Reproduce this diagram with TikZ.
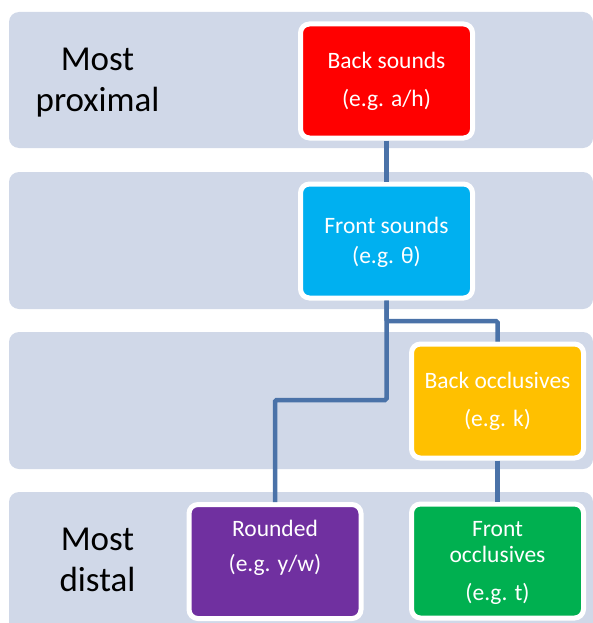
\documentclass[tikz,border=0pt]{standalone}
\usepackage{fontspec}
\setmainfont{Carlito}
\definecolor{bandc}{RGB}{208,216,232}
\definecolor{linkc}{RGB}{74,114,168}
\definecolor{redc}{RGB}{255,0,0}
\definecolor{cyanc}{RGB}{0,176,240}
\definecolor{orangec}{RGB}{255,192,0}
\definecolor{greenc}{RGB}{0,176,80}
\definecolor{purplec}{RGB}{112,48,160}
\tikzset{
  band/.style={fill=bandc, draw=none, rounded corners=10pt},
  box/.style={draw=white, line width=5pt, rounded corners=9pt, minimum width=172pt, minimum height=114pt, inner sep=0pt},
  btxt/.style={anchor=base, text=white, font=\fontsize{23.5}{28}\selectfont, inner sep=0pt},
  side/.style={anchor=base, text=black, font=\fontsize{35}{42}\selectfont, inner sep=0pt},
  link/.style={draw=linkc, line width=4.5pt, rounded corners=1.5pt}
}
\begin{document}
\begin{tikzpicture}[x=1pt,y=-1pt]
\useasboundingbox (0,0) rectangle (593,623);
\clip (0,0) rectangle (593,623);
% bands
\fill[band] (9,12) rectangle (593,148);
\fill[band] (9,172) rectangle (593,309);
\fill[band] (9,332) rectangle (593,469);
\fill[band] (9,492) rectangle (593,660);
% side labels
\node[side] (m1) at (97.5,70.7) {Most};
\node[side] (m2) at (97.5,111.7) {proximal};
\node[side] (d1) at (97.5,550.7) {Most};
\node[side] (d2) at (97.5,591.7) {distal};
% boxes
\node[box, fill=redc] (back) at (386.5,81) {};
\node[box, fill=cyanc] (front) at (386.5,241) {};
\node[box, fill=orangec] (bocc) at (497.5,401) {};
\node[box, fill=greenc] (focc) at (497.5,561) {};
\node[box, fill=purplec] (rnd) at (275,561.5) {};
% connectors
\draw[link] (back.south) -- (front.north);
\coordinate (j1) at (386.5,321);
\coordinate (j2) at (386.5,400);
\draw[link] (front.south) -- (j1) -| (bocc.north);
\draw[link] (front.south) -- (j2) -| (rnd.north);
\draw[link] (bocc.south) -- (focc.north);
% box texts
\node[btxt] (t1a) at (386.5,69) {Back sounds};
\node[btxt] (t1b) at (386.5,106.7) {(e.g. a/h)};
\node[btxt] (t2a) at (386.5,233.3) {Front sounds};
\node[btxt] (t2b) at (386.5,263) {(e.g. θ)};
\node[btxt] (t3a) at (497.5,388.3) {Back occlusives};
\node[btxt] (t3b) at (497.5,426.7) {(e.g. k)};
\node[btxt] (t4a) at (497.5,536) {Front};
\node[btxt] (t4b) at (497.5,562.7) {occlusives};
\node[btxt] (t4c) at (497.5,600) {(e.g. t)};
\node[btxt] (t5a) at (275,536.7) {Rounded};
\node[btxt] (t5b) at (275,571.7) {(e.g. y/w)};
\end{tikzpicture}
\end{document}
